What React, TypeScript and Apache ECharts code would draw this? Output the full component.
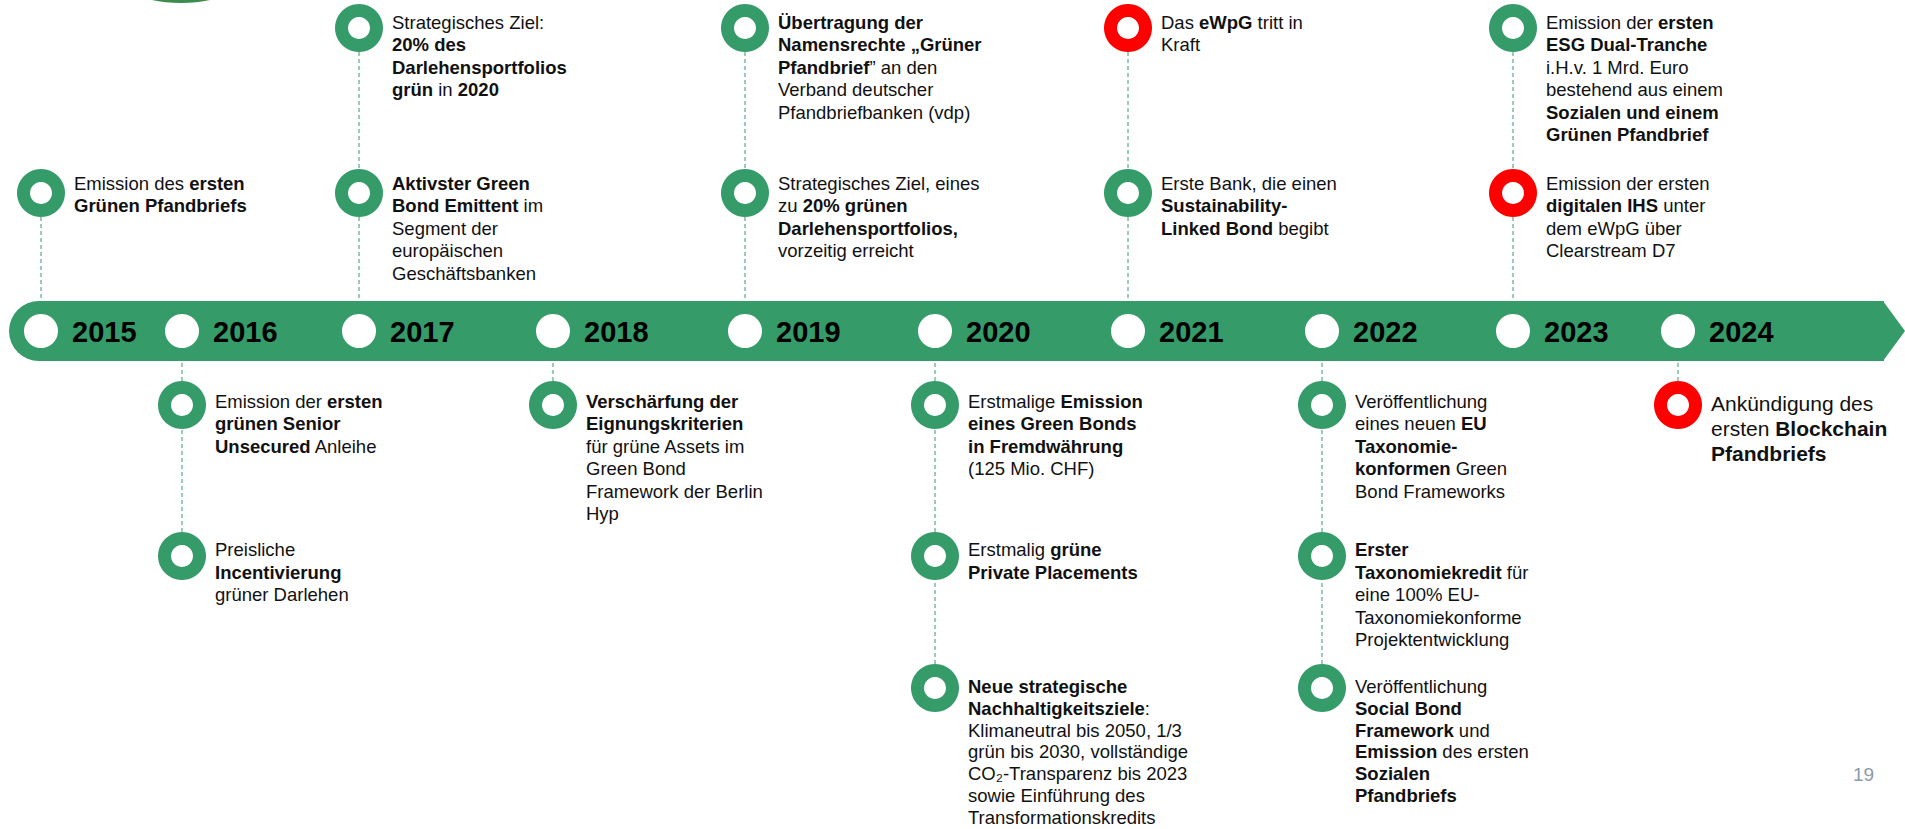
import React, { useEffect, useRef } from "react";
import * as echarts from "echarts";

// ---------------- data ----------------
const years = ["2015", "2016", "2017", "2018", "2019", "2020", "2021", "2022", "2023", "2024"];

// side: above/below the timeline; tier: 1 = closest to the bar
// kind: "green" (sustainability milestone) or "digital" (digital/eWpG milestone)
const eventYears = ["2015", "2017", "2017", "2019", "2019", "2021", "2021", "2023", "2023",
  "2016", "2016", "2018", "2020", "2020", "2020", "2022", "2022", "2022", "2024"];
const eventSides = ["above", "above", "above", "above", "above", "above", "above", "above", "above",
  "below", "below", "below", "below", "below", "below", "below", "below", "below", "below"];
const eventTiers = [1, 2, 1, 2, 1, 2, 1, 2, 1, 1, 2, 1, 1, 2, 3, 1, 2, 3, 1];
const eventKinds = ["green", "green", "green", "green", "green", "digital", "green", "green", "digital",
  "green", "green", "green", "green", "green", "green", "green", "green", "green", "digital"];
const eventTexts: string[][] = [
  ["Emission des **ersten**", "**Grünen Pfandbriefs**"],
  ["Strategisches Ziel:", "**20% des**", "**Darlehensportfolios**", "**grün** in **2020**"],
  ["**Aktivster Green**", "**Bond Emittent** im", "Segment der", "europäischen", "Geschäftsbanken"],
  ["**Übertragung der**", "**Namensrechte „Grüner**", "**Pfandbrief**” an den", "Verband deutscher", "Pfandbriefbanken (vdp)"],
  ["Strategisches Ziel, eines", "zu **20% grünen**", "**Darlehensportfolios,**", "vorzeitig erreicht"],
  ["Das **eWpG** tritt in", "Kraft"],
  ["Erste Bank, die einen", "**Sustainability-**", "**Linked Bond** begibt"],
  ["Emission der **ersten**", "**ESG Dual-Tranche**", "i.H.v. 1 Mrd. Euro", "bestehend aus einem", "**Sozialen und einem**", "**Grünen Pfandbrief**"],
  ["Emission der ersten", "**digitalen IHS** unter", "dem eWpG über", "Clearstream D7"],
  ["Emission der **ersten**", "**grünen Senior**", "**Unsecured** Anleihe"],
  ["Preisliche", "**Incentivierung**", "grüner Darlehen"],
  ["**Verschärfung der**", "**Eignungskriterien**", "für grüne Assets im", "Green Bond", "Framework der Berlin", "Hyp"],
  ["Erstmalige **Emission**", "**eines Green Bonds**", "**in Fremdwährung**", "(125 Mio. CHF)"],
  ["Erstmalig **grüne**", "**Private Placements**"],
  ["**Neue strategische**", "**Nachhaltigkeitsziele**:", "Klimaneutral bis 2050, 1/3", "grün bis 2030, vollständige", "CO₂-Transparenz bis 2023", "sowie Einführung des", "Transformationskredits"],
  ["Veröffentlichung", "eines neuen **EU**", "**Taxonomie-**", "**konformen** Green", "Bond Frameworks"],
  ["**Erster**", "**Taxonomiekredit** für", "eine 100% EU-", "Taxonomiekonforme", "Projektentwicklung"],
  ["Veröffentlichung", "**Social Bond**", "**Framework** und", "**Emission** des ersten", "**Sozialen**", "**Pfandbriefs**"],
  ["Ankündigung des", "ersten **Blockchain**", "**Pfandbriefs**"],
];
const pageNumber = "19";

// ---------------- layout & style ----------------
const W = 1905;
const H = 829;
const YEAR_X = [41, 182, 359, 553, 745, 935, 1128, 1322, 1513, 1678];
const BAR_TOP = 301;
const BAR_BOTTOM = 361;
const BAR_CY = 331;
const TIER_Y: Record<string, number[]> = { above: [0, 193, 28], below: [0, 405, 556, 688] };
const TEXT_DY: Record<string, number[]> = { above: [0, -9.5, -5.5], below: [0, -3.5, -6, -1.5] };
const TEXT_LH: Record<string, number[]> = { above: [0, 22.4, 22.4], below: [0, 22.4, 22.4, 21.8] };
const RING_R = 24;
const RING_R0 = 11;
const GREEN = "#359B69";
const RED = "#FF0000";
const KIND_COLOR: Record<string, string> = { green: GREEN, digital: RED };
const FONT = "'Liberation Sans', Arial, Helvetica, sans-serif";
const TEXT_COLOR = "#111111";
const LARGE_TEXT_YEARS = ["2024"];

function toRich(lines: string[]): string {
  return lines
    .map((line) =>
      line
        .split("**")
        .map((p, i) => (p ? `{${i % 2 ? "b" : "n"}|${p}}` : ""))
        .join("")
    )
    .join("\n");
}

function richStyles(size: number, lh: number) {
  const base = { fontSize: size, lineHeight: lh, fontFamily: FONT, fill: TEXT_COLOR };
  return {
    n: { ...base, fontWeight: "normal" },
    b: { ...base, fontWeight: "bold" },
  };
}

export default function App() {
  const ref = useRef<HTMLDivElement>(null);

  useEffect(() => {
    if (!ref.current) return;
    const chart = echarts.init(ref.current, undefined, { renderer: "svg" });

    const yearData = years.map((_, i) => [YEAR_X[i], BAR_CY]);
    const eventData = eventYears.map((y, i) => [
      YEAR_X[years.indexOf(y)],
      TIER_Y[eventSides[i]][eventTiers[i]],
    ]);

    const option: any = {
      animation: false,
      backgroundColor: "#ffffff",
      grid: { left: 0, right: 0, top: 0, bottom: 0, containLabel: false },
      xAxis: { type: "value", min: 0, max: W, show: false },
      yAxis: { type: "value", min: 0, max: H, inverse: true, show: false },
      graphic: [
        // partial shape at the top edge
        {
          type: "ellipse",
          shape: { cx: 181, cy: -17, rx: 55, ry: 20 },
          style: { fill: "#3C8C50" },
          z: 1,
        },
        // timeline bar with rounded start and arrow tip
        {
          type: "rect",
          shape: { x: 9, y: BAR_TOP, width: 1875, height: BAR_BOTTOM - BAR_TOP, r: [30, 0, 0, 30] },
          style: { fill: GREEN },
          z: 1,
        },
        {
          type: "polygon",
          shape: { points: [[1883, BAR_TOP], [1905, BAR_CY], [1883, BAR_BOTTOM]] },
          style: { fill: GREEN },
          z: 1,
        },
        {
          type: "text",
          x: 1853,
          y: 784,
          style: {
            text: pageNumber,
            fill: "#8E9AA6",
            fontSize: 19,
            fontFamily: FONT,
            verticalAlign: "bottom",
            align: "left",
          },
          z: 5,
        },
      ],
      series: [
        {
          type: "custom",
          name: "years",
          coordinateSystem: "cartesian2d",
          clip: false,
          z: 10,
          data: yearData,
          renderItem: (params: any, api: any) => {
            const p = api.coord([api.value(0), api.value(1)]);
            return {
              type: "group",
              children: [
                { type: "circle", shape: { cx: p[0], cy: p[1], r: 17 }, style: { fill: "#ffffff" } },
                {
                  type: "text",
                  x: p[0] + 31,
                  y: p[1] + 1,
                  style: {
                    text: years[params.dataIndex],
                    fill: "#000000",
                    fontSize: 29,
                    fontWeight: "bold",
                    fontFamily: FONT,
                    verticalAlign: "middle",
                    align: "left",
                  },
                },
              ],
            };
          },
        },
        {
          type: "custom",
          name: "events",
          coordinateSystem: "cartesian2d",
          clip: false,
          z: 10,
          data: eventData,
          renderItem: (params: any, api: any) => {
            const i = params.dataIndex;
            const side = eventSides[i];
            const tier = eventTiers[i];
            const year = eventYears[i];
            const p = api.coord([api.value(0), api.value(1)]);
            const color = KIND_COLOR[eventKinds[i]];
            const large = LARGE_TEXT_YEARS.indexOf(year) >= 0;
            const size = large ? 21 : 18.5;
            const lh = large ? 25 : TEXT_LH[side][tier];

            // connector toward the bar
            const nearer = eventYears.findIndex(
              (y, j) => y === year && eventSides[j] === side && eventTiers[j] === tier - 1
            );
            let y1: number, y2: number;
            if (side === "above") {
              y1 = p[1] + RING_R;
              y2 = nearer >= 0 ? api.coord([0, TIER_Y[side][tier - 1]])[1] - RING_R : api.coord([0, BAR_TOP])[1];
            } else {
              y1 = p[1] - RING_R;
              y2 = nearer >= 0 ? api.coord([0, TIER_Y[side][tier - 1]])[1] + RING_R : api.coord([0, BAR_BOTTOM])[1];
            }
            const firstLineCenter = p[1] + (large ? -1.5 : TEXT_DY[side][tier]);
            return {
              type: "group",
              children: [
                {
                  type: "line",
                  shape: { x1: p[0], y1, x2: p[0], y2 },
                  style: { stroke: GREEN, lineWidth: 1, lineDash: [4, 3] },
                },
                {
                  type: "ring",
                  shape: { cx: p[0], cy: p[1], r: RING_R, r0: RING_R0 },
                  style: { fill: color },
                },
                {
                  type: "text",
                  x: p[0] + 33,
                  y: firstLineCenter - lh / 2,
                  style: {
                    text: toRich(eventTexts[i]),
                    rich: richStyles(size, lh),
                    fill: TEXT_COLOR,
                    fontSize: size,
                    fontFamily: FONT,
                    lineHeight: lh,
                    verticalAlign: "top",
                    align: "left",
                  },
                },
              ],
            };
          },
        },
      ],
    };

    chart.setOption(option);
    return () => chart.dispose();
  }, []);

  return (
    <div
      ref={ref}
      style={{ position: "fixed", left: 0, top: 0, width: W, height: H, background: "#ffffff" }}
    />
  );
}
